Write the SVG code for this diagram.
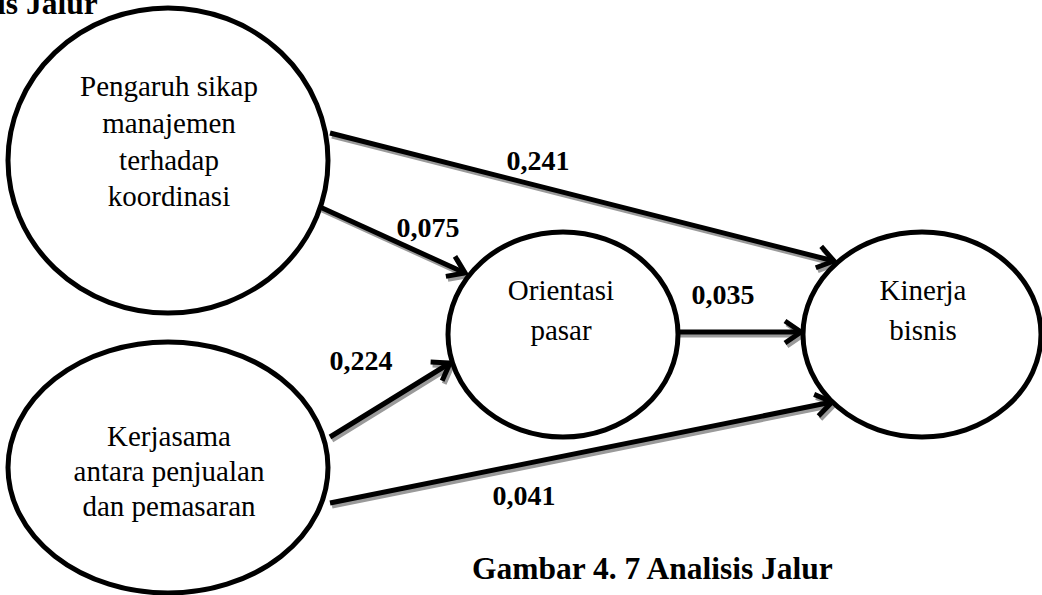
<svg xmlns="http://www.w3.org/2000/svg" width="1042" height="595" viewBox="0 0 1042 595">
<style>
.node{fill:#fff;stroke:#000;stroke-width:5}
.nt{font-family:"Liberation Serif","Times New Roman",serif;font-size:29px;fill:#000;text-anchor:middle}
.lb{font-family:"Liberation Serif","Times New Roman",serif;font-size:28px;font-weight:bold;fill:#000;text-anchor:middle}
.ttl{font-family:"Liberation Serif","Times New Roman",serif;font-size:31.5px;font-weight:bold;fill:#000}
.sh{stroke:#9a9a9a;stroke-width:5;fill:none;marker-end:url(#ahg)}
.ln{stroke:#000;stroke-width:5;fill:none;marker-end:url(#ah)}
</style>
<defs>
<marker id="ah" markerUnits="userSpaceOnUse" markerWidth="40" markerHeight="40" refX="0" refY="0" viewBox="-25 -20 40 40" orient="auto" overflow="visible">
<path d="M-16,-11 L0,0 L-16,11" fill="none" stroke="#000" stroke-width="5" stroke-linejoin="miter"/>
</marker>
<marker id="ahg" markerUnits="userSpaceOnUse" markerWidth="40" markerHeight="40" refX="0" refY="0" viewBox="-25 -20 40 40" orient="auto" overflow="visible">
<path d="M-16,-11 L0,0 L-16,11" fill="none" stroke="#9a9a9a" stroke-width="5" stroke-linejoin="miter"/>
</marker>
</defs>
<rect width="1042" height="595" fill="#fff"/>
<text class="ttl" x="-3" y="14">is Jalur</text>
<g id="connectors">
<g transform="translate(2,3)">
<line class="sh" x1="330" y1="133" x2="834" y2="261"/>
<line class="sh" x1="320" y1="207" x2="465" y2="273"/>
<line class="sh" x1="330" y1="437" x2="450" y2="363"/>
<line class="sh" x1="677" y1="332" x2="801" y2="332"/>
<line class="sh" x1="330" y1="503" x2="832" y2="402"/>
</g>
<line class="ln" x1="330" y1="133" x2="834" y2="261"/>
<line class="ln" x1="320" y1="207" x2="465" y2="273"/>
<line class="ln" x1="330" y1="437" x2="450" y2="363"/>
<line class="ln" x1="677" y1="332" x2="801" y2="332"/>
<line class="ln" x1="330" y1="503" x2="832" y2="402"/>
<text class="lb" x="538" y="170">0,241</text>
<text class="lb" x="428" y="237">0,075</text>
<text class="lb" x="361" y="370">0,224</text>
<text class="lb" x="723" y="304">0,035</text>
<text class="lb" x="524" y="505">0,041</text>
</g>
<g id="n1">
<ellipse class="node" cx="168" cy="160.5" rx="160" ry="152.5"/>
<text class="nt" x="169" y="96">Pengaruh sikap</text>
<text class="nt" x="169" y="133">manajemen</text>
<text class="nt" x="169" y="170">terhadap</text>
<text class="nt" x="169" y="206">koordinasi</text>
</g>
<g id="n2">
<ellipse class="node" cx="168" cy="467.5" rx="160" ry="125.5"/>
<text class="nt" x="169" y="446">Kerjasama</text>
<text class="nt" x="169" y="481">antara penjualan</text>
<text class="nt" x="169" y="516">dan pemasaran</text>
</g>
<g id="n3">
<ellipse class="node" cx="563" cy="334.5" rx="115" ry="102.5"/>
<text class="nt" x="561" y="300">Orientasi</text>
<text class="nt" x="561" y="340">pasar</text>
</g>
<g id="n4">
<ellipse class="node" cx="922" cy="334.5" rx="119" ry="102.5"/>
<text class="nt" x="923" y="300">Kinerja</text>
<text class="nt" x="923" y="340">bisnis</text>
</g>
<text class="ttl" x="472" y="579">Gambar 4. 7 Analisis Jalur</text>
</svg>
